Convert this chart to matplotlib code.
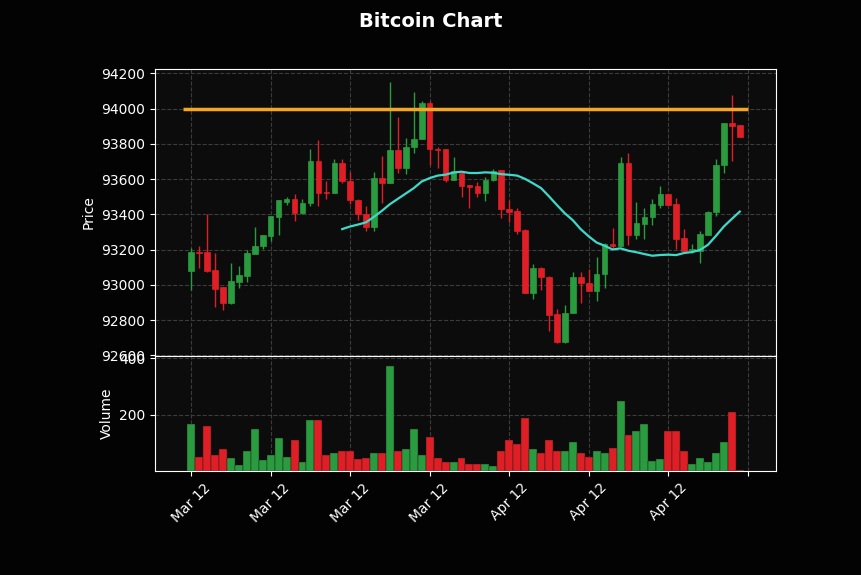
import matplotlib
matplotlib.use("Agg")
import matplotlib.pyplot as plt
from matplotlib.ticker import MultipleLocator, ScalarFormatter
import numpy as np
import pandas as pd

# OHLCV values (one candle per row position)
opens = [93079, 93186, 93186, 93084, 92986, 92895, 93016, 93050, 93177, 93220,
         93277, 93385, 93472, 93489, 93406, 93463, 93701, 93526, 93523, 93693,
         93589, 93482, 93404, 93330, 93605, 93580, 93765, 93663, 93784, 93830,
         94034, 93773, 93769, 93595, 93637, 93565, 93561, 93519, 93595, 93650,
         93432, 93417, 93311, 92956, 93097, 93046, 92833, 92676, 92842, 93046,
         93012, 92965, 93060, 93234, 93220, 93693, 93283, 93347, 93387, 93453,
         93514, 93457, 93264, 93195, 93192, 93283, 93413, 93678, 93917, 93905]
highs = [93211, 93220, 93404, 93183, 92990, 93122, 93107, 93198, 93330, 93285,
         93392, 93483, 93500, 93514, 93489, 93773, 93820, 93589, 93716, 93712,
         93641, 93485, 93448, 93641, 93731, 94151, 93955, 93834, 94095, 94044,
         94044, 93784, 93771, 93728, 93641, 93567, 93584, 93614, 93659, 93653,
         93482, 93438, 93319, 93116, 93100, 93050, 92865, 92884, 93073, 93073,
         93092, 93160, 93236, 93325, 93728, 93750, 93470, 93438, 93489, 93561,
         93516, 93495, 93319, 93234, 93306, 93417, 93716, 93920, 94076, 93907]
lows = [92971, 93097, 93075, 92876, 92857, 92893, 92982, 93016, 93175, 93205,
        93249, 93281, 93451, 93364, 93404, 93448, 93448, 93489, 93520, 93580,
        93457, 93368, 93306, 93306, 93463, 93577, 93637, 93627, 93746, 93828,
        93678, 93665, 93584, 93593, 93500, 93438, 93500, 93476, 93589, 93381,
        93357, 93287, 92954, 92918, 92971, 92738, 92670, 92670, 92840, 92895,
        92963, 92908, 92984, 93202, 93218, 93224, 93262, 93262, 93340, 93434,
        93451, 93202, 93190, 93183, 93122, 93281, 93391, 93633, 93703, 93839]
closes = [93186, 93180, 93079, 92975, 92895, 93020, 93054, 93179, 93222, 93281,
          93389, 93480, 93489, 93406, 93466, 93701, 93523, 93520, 93693, 93589,
          93482, 93400, 93330, 93605, 93580, 93765, 93665, 93784, 93830, 94034,
          93773, 93765, 93595, 93646, 93561, 93555, 93519, 93595, 93646, 93432,
          93413, 93306, 92956, 93097, 93046, 92827, 92676, 92842, 93046, 93012,
          92965, 93060, 93234, 93220, 93693, 93283, 93349, 93387, 93457, 93514,
          93453, 93258, 93192, 93205, 93287, 93415, 93682, 93917, 93902, 93841]
volumes = [169, 52, 159, 59, 80, 48, 21, 73, 148, 40,
           59, 116, 52, 109, 31, 180, 180, 56, 66, 73,
           70, 45, 48, 63, 66, 371, 73, 80, 151, 59,
           120, 48, 31, 31, 48, 24, 27, 27, 20, 70,
           109, 98, 190, 80, 66, 109, 73, 70, 102, 66,
           52, 73, 63, 84, 247, 130, 141, 169, 38, 45,
           141, 141, 73, 24, 48, 31, 66, 102, 208, 3]
tick_labels = ["Mar 12", "Mar 12", "Mar 12", "Mar 12", "Apr 12", "Apr 12", "Apr 12", ""]
hline_level = 94000
mav_window = 20

df = pd.DataFrame({"open": opens, "high": highs, "low": lows,
                   "close": closes, "volume": volumes})
x = np.arange(len(df))
mav = df["close"].rolling(mav_window).mean()

up_color = "#2a9b3f"
down_color = "#de1f26"
colors = [up_color if c >= o else down_color for o, c in zip(df["open"], df["close"])]

plt.rcParams["font.family"] = "DejaVu Sans"
fig = plt.figure(figsize=(8.62, 5.75), dpi=100, facecolor="#030303")
ax = fig.add_axes([0.1798, 0.3809, 0.7204, 0.4991])
axv = fig.add_axes([0.1798, 0.1809, 0.7204, 0.2000], sharex=ax)

for a in (ax, axv):
    a.set_facecolor("#0c0c0c")
    for s in a.spines.values():
        s.set_color("white")
    a.tick_params(colors="white", labelsize=10)
    a.grid(True, linestyle="--", color="#3c3c3c", linewidth=0.8)
    a.set_axisbelow(True)

# candles
body_bottom = np.minimum(df["open"], df["close"])
body_height = np.maximum(np.abs(df["close"] - df["open"]), 2)
ax.vlines(x, df["low"], df["high"], colors=colors, linewidth=1)
ax.bar(x, body_height, bottom=body_bottom, width=0.7, color=colors,
       edgecolor=colors, linewidth=0.5)

# moving average and horizontal line
ax.plot(x, mav, color="#3fd9c9", linewidth=1.6)
ax.hlines(hline_level, x[0] - 1, x[-1] + 1, color="#f5a623", linewidth=2.5)

# volume
axv.bar(x, df["volume"], width=1.0, color=colors, edgecolor="#1a1a1a", linewidth=0.3)

span = (x[-1] + 1) - (x[0] - 1)
ax.set_xlim(x[0] - 1 - 0.05 * span, x[-1] + 1 + 0.05 * span)
lo, hi = df["low"].min(), df["high"].max()
pad = 0.05 * (hi - lo)
ax.set_ylim(lo - pad, hi + pad)
axv.set_ylim(0.3 * df["volume"].min(), 1.1 * df["volume"].max())

ax.yaxis.set_major_locator(MultipleLocator(200))
fmt = ScalarFormatter(useOffset=False)
fmt.set_scientific(False)
ax.yaxis.set_major_formatter(fmt)
axv.yaxis.set_major_locator(MultipleLocator(200))

ticks = list(range(0, len(df) + 1, 10))
axv.set_xticks(ticks)
axv.set_xticklabels(tick_labels, rotation=45)
plt.setp(ax.get_xticklabels(), visible=False)
ax.tick_params(axis="x", length=0)

ax.set_ylabel("Price", color="white", fontsize=10)
axv.set_ylabel("Volume", color="white", fontsize=10)
fig.suptitle("Bitcoin Chart", color="white", fontsize=14, fontweight="bold", y=0.979)

plt.savefig("out.png", dpi=100, facecolor=fig.get_facecolor())
